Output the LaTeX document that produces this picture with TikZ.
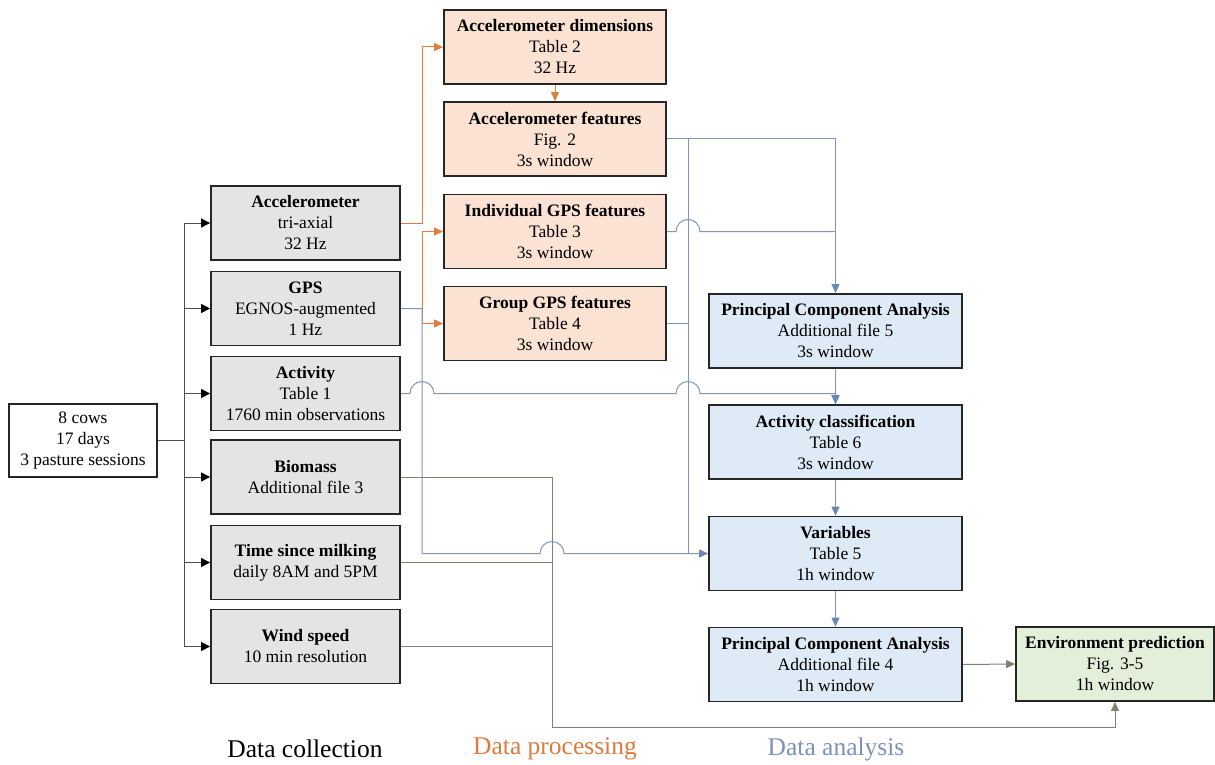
\documentclass[tikz,border=0pt]{standalone}
\usepackage{fontspec}
\setmainfont{Liberation Serif}
\usetikzlibrary{arrows.meta,calc}
\definecolor{boxline}{HTML}{262626}
\definecolor{grayfill}{HTML}{E4E4E4}
\definecolor{orfill}{HTML}{FBE2D3}
\definecolor{blfill}{HTML}{DEEAF6}
\definecolor{grfill}{HTML}{E3EFD9}
\definecolor{orline}{HTML}{E07E3E}
\definecolor{blline}{HTML}{8294B2}
\definecolor{blhead}{HTML}{6A87B8}
\definecolor{olline}{HTML}{7F8272}
\definecolor{blkline}{HTML}{505050}
\definecolor{orlabel}{HTML}{DD7A3E}
\definecolor{bllabel}{HTML}{7D90BE}
\begin{document}
\begin{tikzpicture}[x=1pt,y=-1pt,
  box/.style={draw=boxline, line width=1.8pt, align=center, inner sep=0pt,
    font=\fontsize{17.5}{21}\selectfont, minimum height=74pt},
  gbox/.style={box, fill=grayfill, minimum width=189pt},
  obox/.style={box, fill=orfill, minimum width=222pt},
  bbox/.style={box, fill=blfill, minimum width=253pt},
  grbox/.style={box, fill=grfill, minimum width=198pt},
  srcbox/.style={box, fill=white, line width=1.3pt, minimum width=148pt, minimum height=73pt},
  kline/.style={draw=blkline, line width=1pt},
  karr/.style={kline, -{Triangle[length=9pt,width=9pt,fill=black,color=black]}},
  oline/.style={draw=orline, line width=1pt},
  oarr/.style={oline, -{Triangle[length=9pt,width=8pt]}},
  bline/.style={draw=blline, line width=1pt},
  barr/.style={bline, -{Triangle[length=9pt,width=8pt,color=blhead,fill=blhead]}},
  gline/.style={draw=olline, line width=1pt},
  garr/.style={gline, -{Triangle[length=9pt,width=8pt]}},
  lab/.style={font=\fontsize{25.5}{30}\selectfont, inner sep=0pt}
]
\useasboundingbox (0,0) rectangle (1215,765);

% junction columns
\coordinate (tr) at (184,0);
\coordinate (ja) at (422,0);
\coordinate (jb) at (552,0);
\coordinate (jc) at (688,0);
\coordinate (bot) at (0,727);

% source
\node[srcbox] (src) at (83,440.5) {8 cows\\17 days\\3 pasture sessions};

% data collection
\node[gbox] (acc) at (305.5,223) {\textbf{Accelerometer}\\tri-axial\\32 Hz};
\node[gbox] (gps) at (305.5,308.5) {\textbf{GPS}\\EGNOS-augmented\\1 Hz};
\node[gbox] (act) at (305.5,393.5) {\textbf{Activity}\\Table 1\\1760 min observations};
\node[gbox] (bio) at (305.5,477) {\textbf{Biomass}\\Additional file 3};
\node[gbox] (tsm) at (305.5,562.5) {\textbf{Time since milking}\\daily 8AM and 5PM};
\node[gbox] (wind) at (305.5,646.5) {\textbf{Wind speed}\\10 min resolution};

% data processing
\node[obox] (adim) at (555,47) {\textbf{Accelerometer dimensions}\\Table 2\\32 Hz};
\node[obox] (afeat) at (555,139) {\textbf{Accelerometer features}\\Fig. 2\\3s window};
\node[obox] (igps) at (555,231.5) {\textbf{Individual GPS features}\\Table 3\\3s window};
\node[obox] (ggps) at (555,323.5) {\textbf{Group GPS features}\\Table 4\\3s window};

% data analysis
\node[bbox] (pca1) at (835.5,331) {\textbf{Principal Component Analysis}\\Additional file 5\\3s window};
\node[bbox] (acls) at (835.5,442) {\textbf{Activity classification}\\Table 6\\3s window};
\node[bbox] (vars) at (835.5,553.5) {\textbf{Variables}\\Table 5\\1h window};
\node[bbox] (pca2) at (835.5,664.5) {\textbf{Principal Component Analysis}\\Additional file 4\\1h window};
\node[grbox] (env) at (1115,664) {\textbf{Environment prediction}\\Fig. 3-5\\1h window};

% source fan-out
\draw[kline] (src.east) -- (src.east -| tr);
\draw[kline] (tr |- acc.west) -- (tr |- wind.west);
\foreach \n in {acc,gps,act,bio,tsm,wind}
  \draw[karr] (tr |- \n.west) -- (\n.west);

% processing (orange)
\draw[oarr] (acc.east) -- (ja |- acc.east) |- (adim.west);
\draw[oarr] (adim.south) -- (afeat.north);
\draw[oarr] (ja |- igps.west) -- (igps.west);
\draw[oarr] (ja |- igps.west) |- (ggps.west);

% analysis (blue-gray)
\draw[barr] (gps.east) -- (ja |- gps.east) -- (ja |- vars.west)
  -- ($(jb |- vars.west)+(-12,0)$) arc[start angle=180,end angle=0,radius=12pt]
  -- (vars.west);
\draw[barr] (act.east) -- ($(ja |- act.east)+(-12,0)$) arc[start angle=180,end angle=0,radius=12pt]
  -- ($(jc |- act.east)+(-12,0)$) arc[start angle=180,end angle=0,radius=12pt]
  -- (acls.north |- act.east) -- (acls.north);
\draw[barr] (afeat.east) -| (pca1.north);
\draw[bline] (jc |- afeat.east) -- (jc |- vars.west);
\draw[bline] (igps.east) -- ($(jc |- igps.east)+(-12,0)$) arc[start angle=180,end angle=0,radius=12pt]
  -- (pca1.north |- igps.east);
\draw[bline] (ggps.east) -- (jc |- ggps.east);
\draw[barr] (pca1.south) -- (acls.north);
\draw[barr] (acls.south) -- (vars.north);
\draw[barr] (vars.south) -- (pca2.north);

% environment inputs
\draw[garr] (bio.east) -| (jb |- bot) -| (env.south);
\draw[gline] (tsm.east) -- (jb |- tsm.east);
\draw[gline] (wind.east) -- (jb |- wind.east);
\draw[garr] (pca2.east) -- (env.west);

% column labels
\node[lab] (lc) at (305,749) {Data collection};
\node[lab, text=orlabel] (lp) at (555,749) {Data processing};
\node[lab, text=bllabel] (la) at (836,749) {Data analysis};
\end{tikzpicture}
\end{document}
